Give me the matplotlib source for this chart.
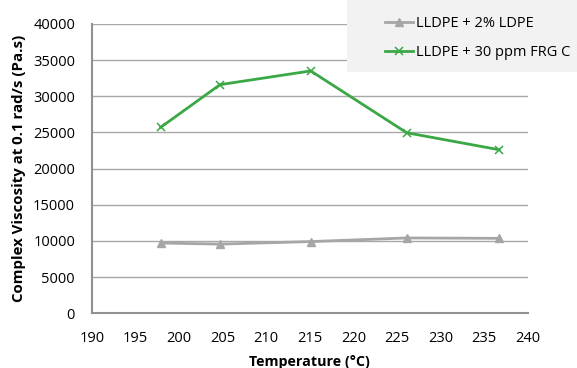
import matplotlib.pyplot as plt
from matplotlib.patches import Rectangle

# Data
temp_ldpe = [197.9, 204.7, 215.1, 226.1, 236.7]
visc_ldpe = [9700, 9550, 9900, 10400, 10350]

temp_frg = [197.9, 204.7, 215.1, 226.1, 236.7]
visc_frg = [25700, 31600, 33500, 24950, 22600]

x_ticks = [190, 195, 200, 205, 210, 215, 220, 225, 230, 235, 240]
y_ticks = [0, 5000, 10000, 15000, 20000, 25000, 30000, 35000, 40000]

plt.rcParams['font.family'] = ['Open Sans', 'DejaVu Sans']

fig = plt.figure(figsize=(5.77, 3.68), dpi=100)
ax = fig.add_axes([0.159, 0.149, 0.756, 0.786])

ax.plot(temp_ldpe, visc_ldpe, color='#a6a6a6', lw=2, marker='^', ms=5.5,
        label='LLDPE + 2% LDPE')
ax.plot(temp_frg, visc_frg, color='#3aa845', lw=2, marker='x', ms=5.5,
        mew=1.1, label='LLDPE + 30 ppm FRG C')

ax.set_xlim(190, 240)
ax.set_ylim(0, 40000)
ax.set_xticks(x_ticks)
ax.set_yticks(y_ticks)
ax.grid(axis='y', color='#a8a8a8', lw=1)
ax.set_axisbelow(True)
ax.tick_params(length=0, labelsize=10.5)
ax.tick_params(axis='x', pad=13)
ax.tick_params(axis='y', pad=12)
for s in ['top', 'right']:
    ax.spines[s].set_visible(False)
for s in ['left', 'bottom']:
    ax.spines[s].set_color('#909090')
    ax.spines[s].set_linewidth(1.5)

ax.set_xlabel('Temperature (°C)', fontsize=10.3, fontweight='bold', labelpad=6)
ax.set_ylabel('Complex Viscosity at 0.1 rad/s (Pa.s)', fontsize=10.8,
              fontweight='bold', labelpad=5)

# legend background box in the top right corner
fig.patches.append(Rectangle((347 / 577, 1 - 72 / 368), 230 / 577, 72 / 368,
                             transform=fig.transFigure, facecolor='#f2f2f2',
                             edgecolor='none', zorder=0))
fig.legend(loc='upper left', bbox_to_anchor=(385 / 577, 1 - 16 / 368),
           fontsize=10.5, frameon=False, handlelength=1.9,
           handletextpad=0.2, labelspacing=0.95, borderpad=0,
           borderaxespad=0)

plt.savefig('out.png', dpi=100)
